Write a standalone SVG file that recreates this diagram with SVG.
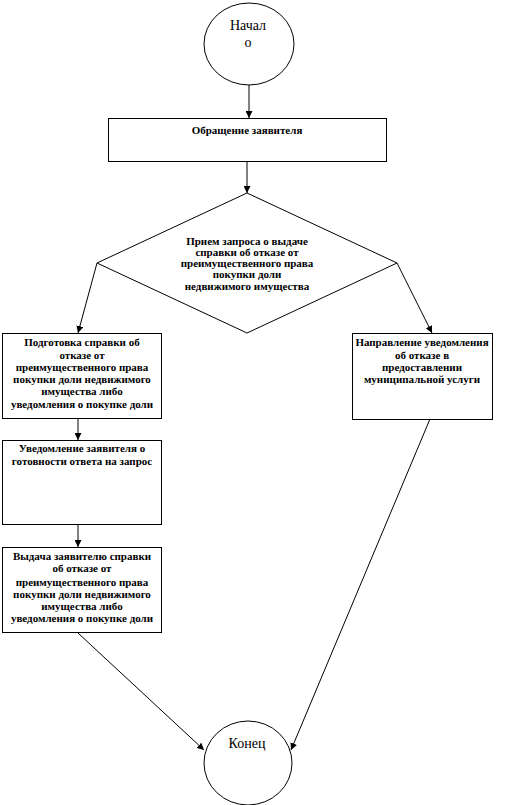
<svg xmlns="http://www.w3.org/2000/svg" width="505" height="805" viewBox="0 0 505 805">
<style>
.shape{fill:#fff;stroke:#000;stroke-width:1}
.t{font-family:"Liberation Serif","Times New Roman",serif;font-size:11px;font-weight:bold;text-anchor:middle;fill:#000}
.c{font-family:"Liberation Serif","Times New Roman",serif;font-size:14px;text-anchor:middle;fill:#000}
.ln{stroke:#000;stroke-width:1;fill:none;marker-end:url(#ah)}
</style>
<defs>
<marker id="ah" viewBox="0 0 10 10" refX="10" refY="5" markerWidth="7" markerHeight="7" markerUnits="userSpaceOnUse" orient="auto">
<path d="M0,0 L10,5 L0,10 z" fill="#000"/>
</marker>
</defs>
<rect width="505" height="805" fill="#fff"/>
<g id="connectors">
<line class="ln" x1="249" y1="85" x2="249" y2="118"/>
<line class="ln" x1="247" y1="161" x2="247" y2="193"/>
<line class="ln" x1="97" y1="263" x2="78" y2="333"/>
<line class="ln" x1="397" y1="263" x2="432" y2="333"/>
<line class="ln" x1="78" y1="419" x2="78" y2="440"/>
<line class="ln" x1="78" y1="525" x2="78" y2="547"/>
<line class="ln" x1="78" y1="633" x2="204" y2="750"/>
<line class="ln" x1="430" y1="419" x2="291" y2="750"/>
</g>
<g id="start">
<ellipse class="shape" cx="249" cy="44" rx="45" ry="41"/>
<text class="c" x="248" y="30">Начал</text>
<text class="c" x="248" y="47">о</text>
</g>
<g id="appeal">
<rect class="shape" x="108.5" y="118.5" width="278" height="43"/>
<text class="t" x="247" y="134">Обращение заявителя</text>
</g>
<g id="decision">
<polygon class="shape" points="247,193 397,263 247,333 97,263"/>
<text class="t" x="247" y="245">Прием запроса о выдаче</text>
<text class="t" x="247" y="256">справки об отказе от</text>
<text class="t" x="247" y="267">преимущественного права</text>
<text class="t" x="247" y="278">покупки доли</text>
<text class="t" x="247" y="290">недвижимого имущества</text>
</g>
<g id="prepare">
<rect class="shape" x="2.5" y="333.5" width="159" height="85"/>
<text class="t" x="82" y="346">Подготовка справки об</text>
<text class="t" x="82" y="359">отказе от</text>
<text class="t" x="82" y="371">преимущественного права</text>
<text class="t" x="82" y="383">покупки доли недвижимого</text>
<text class="t" x="82" y="395">имущества либо</text>
<text class="t" x="82" y="408">уведомления о покупке доли</text>
</g>
<g id="notify-refusal">
<rect class="shape" x="352.5" y="333.5" width="140" height="86"/>
<text class="t" x="422" y="346">Направление уведомления</text>
<text class="t" x="422" y="359">об отказе в</text>
<text class="t" x="422" y="371">предоставлении</text>
<text class="t" x="422" y="383">муниципальной услуги</text>
</g>
<g id="notify-ready">
<rect class="shape" x="2.5" y="440.5" width="159" height="84"/>
<text class="t" x="82" y="452">Уведомление заявителя о</text>
<text class="t" x="82" y="465">готовности ответа на запрос</text>
</g>
<g id="issue">
<rect class="shape" x="2.5" y="547.5" width="159" height="85"/>
<text class="t" x="82" y="560">Выдача заявителю справки</text>
<text class="t" x="82" y="572">об отказе от</text>
<text class="t" x="82" y="586">преимущественного права</text>
<text class="t" x="82" y="598">покупки доли недвижимого</text>
<text class="t" x="82" y="610">имущества либо</text>
<text class="t" x="82" y="622">уведомления о покупке доли</text>
</g>
<g id="end">
<ellipse class="shape" cx="248" cy="763" rx="44" ry="42"/>
<text class="c" x="247" y="748">Конец</text>
</g>
</svg>
